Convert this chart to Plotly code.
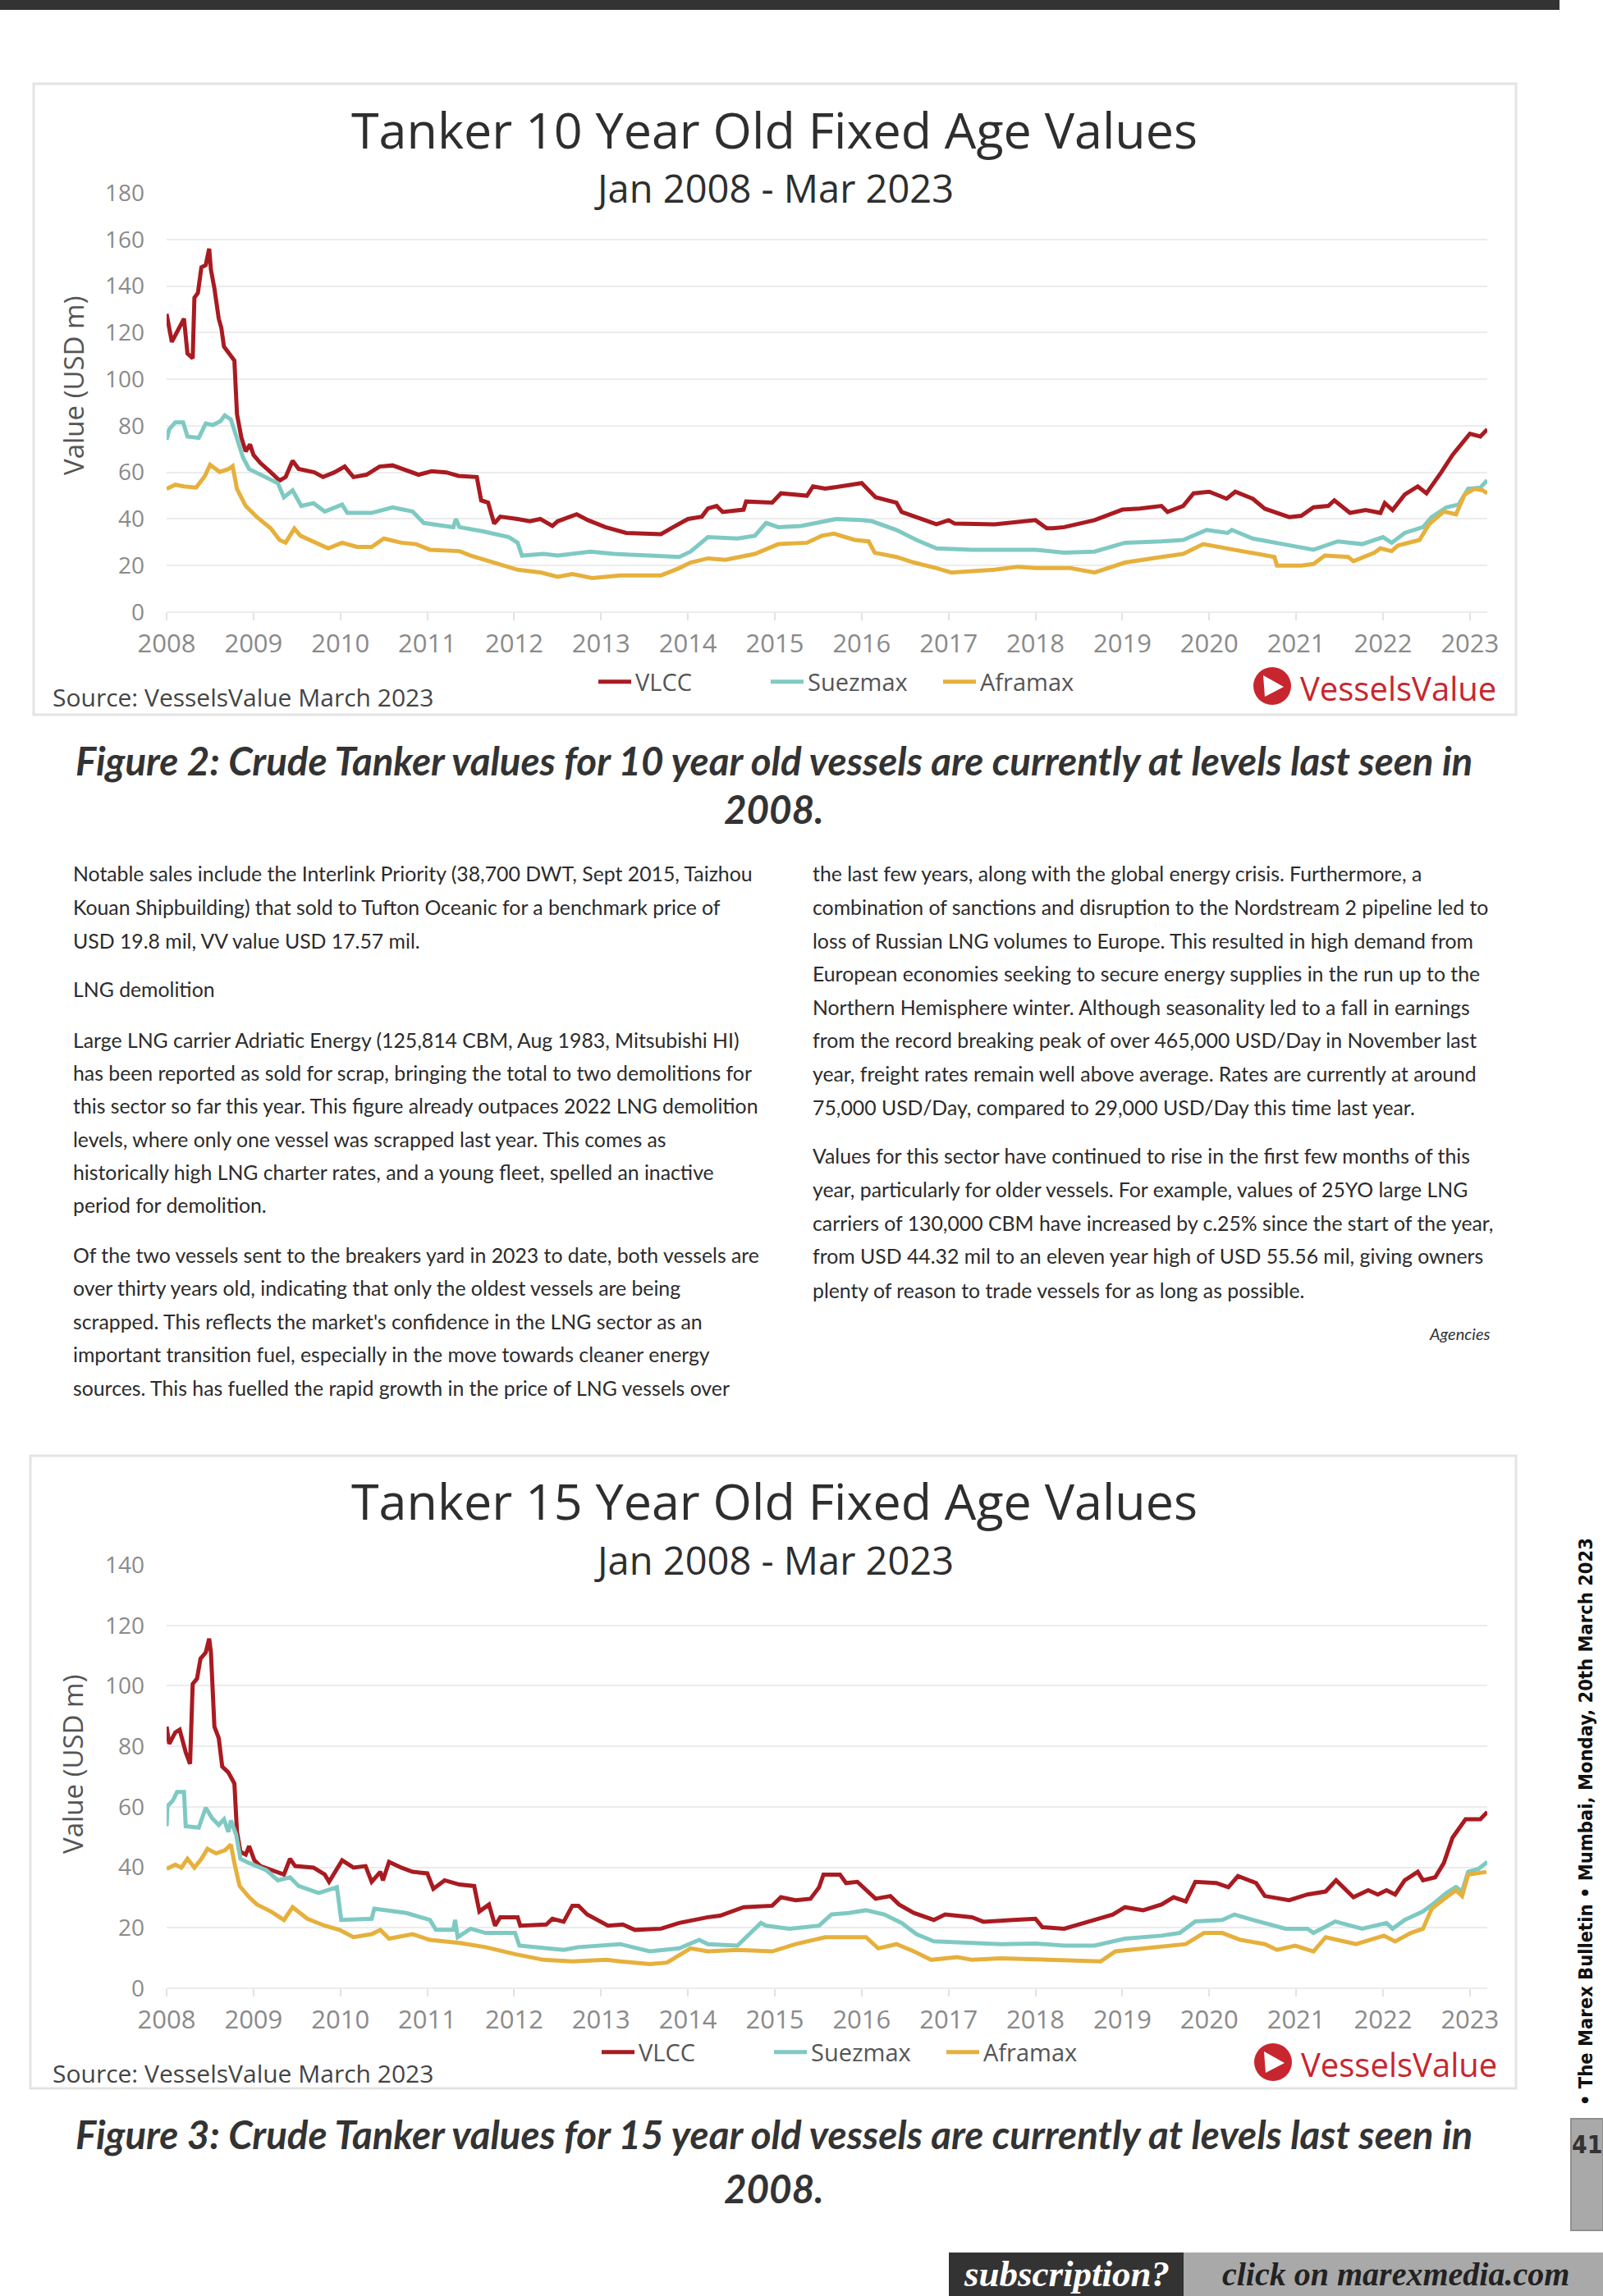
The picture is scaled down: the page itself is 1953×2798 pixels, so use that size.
import plotly.graph_objects as go

W, H = 1953, 2798


def X(px):
    return px / W


def Y(py):
    return 1 - py / H


# ---------------- data ----------------
YEARS = list(range(2008, 2024))
YEAR_LABELS = [str(y) for y in YEARS]
Y1_TICKS = list(range(0, 181, 20))
Y2_TICKS = list(range(0, 141, 20))
SERIES = ["VLCC", "Suezmax", "Aframax"]
COLORS = {"VLCC": "#a91b21", "Suezmax": "#7fc9c3", "Aframax": "#e6b03c"}

# Figure 2 : 10 year old values (USD m), time in decimal years
vlcc10_t = [2008.00, 2008.06, 2008.13, 2008.20, 2008.24, 2008.30, 2008.32, 2008.36, 2008.40, 2008.45, 2008.49, 2008.51,
            2008.55, 2008.60, 2008.63, 2008.66, 2008.74, 2008.78, 2008.81, 2008.86, 2008.91, 2008.96, 2009.00, 2009.08,
            2009.20, 2009.30, 2009.37, 2009.45, 2009.52, 2009.70, 2009.80, 2009.93, 2010.05, 2010.15, 2010.30, 2010.45,
            2010.60, 2010.72, 2010.90, 2011.05, 2011.22, 2011.36, 2011.57, 2011.62, 2011.70, 2011.77, 2011.84, 2012.04,
            2012.18, 2012.30, 2012.44, 2012.50, 2012.72, 2012.85, 2013.05, 2013.29, 2013.69, 2013.83, 2014.00, 2014.16,
            2014.23, 2014.33, 2014.40, 2014.64, 2014.67, 2014.97, 2015.07, 2015.37, 2015.44, 2015.58, 2015.92, 2016.00,
            2016.16, 2016.40, 2016.46, 2016.62, 2016.86, 2017.00, 2017.07, 2017.53, 2017.87, 2018.00, 2018.13, 2018.20,
            2018.33, 2018.68, 2019.00, 2019.20, 2019.45, 2019.52, 2019.70, 2019.82, 2020.00, 2020.20, 2020.30, 2020.50,
            2020.64, 2020.92, 2021.06, 2021.20, 2021.37, 2021.44, 2021.62, 2021.80, 2021.97, 2022.02, 2022.11, 2022.25,
            2022.40, 2022.50, 2022.67, 2022.80, 2023.00, 2023.12, 2023.20]
vlcc10_v = [128, 116, 121, 126, 111, 109, 135, 137, 148, 149, 156, 147,
            139, 126, 122, 114, 110, 108, 85, 75, 69, 72, 67.5, 64,
            60, 56.5, 58, 65, 61.5, 60, 58, 60, 62.5, 58, 59, 62.5,
            63, 61.5, 59, 60.5, 60, 58.5, 58, 48, 47, 38, 41, 40,
            39, 40, 37, 39, 42, 39.5, 36.5, 34, 33.5, 36.5, 40, 41,
            44.5, 45.6, 43, 44, 47.5, 47, 51, 50, 54, 53, 55, 55.4,
            49.3, 47, 43, 41, 37.7, 39.5, 38, 37.7, 39, 39.5, 36, 36,
            36.5, 39.5, 44, 44.5, 45.6, 43, 45.6, 51, 51.7, 48.7, 51.7, 48.7,
            44.4, 40.8, 41.4, 45, 45.6, 48, 42.6, 43.8, 42.6, 46.8, 43.8, 50.5,
            54, 51, 60, 67.5, 76.6, 75.4, 78.5]

suez10_t = [2008.00, 2008.03, 2008.10, 2008.19, 2008.24, 2008.37, 2008.45, 2008.53, 2008.62, 2008.67, 2008.74, 2008.81,
            2008.88, 2008.95, 2009.08, 2009.28, 2009.35, 2009.45, 2009.55, 2009.69, 2009.82, 2010.02, 2010.08, 2010.36,
            2010.60, 2010.83, 2010.96, 2011.20, 2011.30, 2011.33, 2011.37, 2011.64, 2011.94, 2012.04, 2012.09, 2012.34,
            2012.50, 2012.88, 2013.15, 2013.56, 2013.90, 2014.03, 2014.23, 2014.57, 2014.77, 2014.90, 2015.04, 2015.30,
            2015.71, 2016.00, 2016.12, 2016.40, 2016.63, 2016.86, 2017.27, 2018.00, 2018.33, 2018.68, 2019.03, 2019.45,
            2019.70, 2019.97, 2020.21, 2020.26, 2020.50, 2020.85, 2021.20, 2021.48, 2021.76, 2022.00, 2022.10, 2022.25,
            2022.46, 2022.56, 2022.73, 2022.87, 2022.98, 2023.12, 2023.20]
suez10_v = [74, 78.5, 81.5, 81.5, 75.4, 74.8, 81, 80.3, 82, 84.5, 82.7, 74.8,
            66.3, 61.4, 59, 55.4, 49.3, 52.3, 45.6, 46.8, 43.2, 46.2, 42.6, 42.6,
            45, 43.2, 38.3, 37, 36.5, 40, 36.5, 34.7, 32.2, 29.8, 24.3, 25,
            24.3, 26, 25, 24.3, 23.7, 26, 32.2, 31.6, 32.8, 38.3, 36.5, 37,
            40, 39.5, 39, 35.3, 31, 27.4, 26.8, 26.8, 25.5, 26, 29.8, 30.4,
            31, 35.3, 34, 35.3, 31.6, 29.2, 26.8, 30.4, 29.2, 32.2, 29.8, 34,
            36.5, 40.8, 45, 46.2, 53, 53.5, 56.6]

afra10_t = [2008.00, 2008.10, 2008.20, 2008.34, 2008.44, 2008.50, 2008.61, 2008.71, 2008.76, 2008.81, 2008.91, 2009.04,
            2009.20, 2009.30, 2009.37, 2009.47, 2009.54, 2009.69, 2009.86, 2010.02, 2010.19, 2010.36, 2010.50, 2010.70,
            2010.87, 2011.03, 2011.37, 2011.50, 2011.84, 2012.04, 2012.31, 2012.50, 2012.67, 2012.90, 2013.22, 2013.69,
            2013.90, 2014.03, 2014.23, 2014.43, 2014.77, 2015.04, 2015.37, 2015.54, 2015.68, 2015.92, 2016.08, 2016.15,
            2016.40, 2016.60, 2016.86, 2017.03, 2017.53, 2017.80, 2018.00, 2018.40, 2018.68, 2019.03, 2019.45, 2019.70,
            2019.93, 2020.22, 2020.50, 2020.75, 2020.78, 2021.06, 2021.20, 2021.33, 2021.60, 2021.66, 2021.90, 2021.97,
            2022.10, 2022.17, 2022.42, 2022.53, 2022.70, 2022.84, 2022.94, 2023.05, 2023.15, 2023.20]
afra10_v = [52.9, 54.7, 54, 53.5, 58.4, 63.3, 60.2, 61.4, 62.7, 52.9, 45.6, 40.8,
            35.9, 31, 29.8, 35.9, 32.8, 30.4, 27.4, 29.8, 28, 28, 31.6, 29.8,
            29.2, 26.8, 26.2, 24.3, 20.7, 18.2, 17, 15.2, 16.4, 14.6, 15.8, 15.8,
            18.9, 21.3, 23.1, 22.5, 25, 29.2, 29.8, 32.8, 33.7, 31, 30.4, 25.5,
            23.7, 21.3, 18.9, 17, 18.2, 19.5, 18.9, 18.9, 17, 21.3, 23.7, 25,
            29.2, 27.4, 25.5, 23.7, 20, 20, 20.7, 24.3, 23.7, 21.9, 25.5, 27.4,
            26.2, 28.6, 31, 37.7, 43.2, 42, 50.5, 52.9, 52.3, 51]

# Figure 3 : 15 year old values (USD m)
vlcc15_t = [2008.00, 2008.03, 2008.10, 2008.15, 2008.22, 2008.27, 2008.30, 2008.35, 2008.39, 2008.45, 2008.49, 2008.51,
            2008.55, 2008.60, 2008.64, 2008.71, 2008.78, 2008.81, 2008.85, 2008.91, 2008.95, 2009.01, 2009.08, 2009.28,
            2009.35, 2009.42, 2009.48, 2009.69, 2009.82, 2009.87, 2010.02, 2010.15, 2010.29, 2010.36, 2010.46, 2010.49,
            2010.56, 2010.70, 2010.83, 2011.00, 2011.07, 2011.20, 2011.37, 2011.54, 2011.60, 2011.71, 2011.78, 2011.84,
            2012.04, 2012.07, 2012.37, 2012.44, 2012.57, 2012.67, 2012.74, 2012.84, 2013.08, 2013.25, 2013.39, 2013.69,
            2013.90, 2014.23, 2014.37, 2014.64, 2014.97, 2015.07, 2015.24, 2015.41, 2015.51, 2015.56, 2015.75, 2015.82,
            2015.95, 2016.16, 2016.33, 2016.43, 2016.60, 2016.83, 2016.96, 2017.27, 2017.40, 2017.74, 2018.00, 2018.08,
            2018.33, 2018.68, 2018.89, 2019.03, 2019.24, 2019.45, 2019.59, 2019.73, 2019.84, 2020.08, 2020.22, 2020.33,
            2020.54, 2020.64, 2020.92, 2021.13, 2021.34, 2021.46, 2021.66, 2021.83, 2021.94, 2022.04, 2022.14, 2022.25,
            2022.40, 2022.46, 2022.60, 2022.70, 2022.80, 2022.95, 2023.12, 2023.20]
vlcc15_v = [86.5, 80.8, 84.6, 85.5, 78, 74.2, 100.6, 102.4, 109, 111, 115.6, 111,
            86.5, 82.7, 73.3, 71.4, 67.7, 51.7, 45.1, 44.2, 47, 42.3, 40.4, 38.5,
            37.6, 42.8, 40.4, 39.9, 37.6, 35.2, 42.3, 39.9, 40.4, 35.2, 38.5, 35.7,
            41.8, 39.9, 38.5, 38, 32.9, 35.7, 34.3, 33.8, 25.4, 27.7, 20.7, 23.5,
            23.5, 20.7, 21.1, 23, 22, 27.3, 27.3, 24.4, 20.7, 21.1, 19.3, 19.7,
            21.6, 23.5, 24, 26.8, 27.3, 30.1, 29.1, 29.6, 33.4, 37.6, 37.6, 34.8,
            35.2, 29.6, 30.5, 27.7, 24.9, 22.6, 24.4, 23.5, 22, 22.6, 23, 20.2,
            19.7, 22.6, 24.4, 26.8, 25.8, 27.7, 30.1, 28.7, 35.2, 34.8, 33.4, 37.1,
            34.8, 30.5, 29.1, 31, 32, 35.7, 30.1, 32.4, 31, 32.4, 31, 35.7,
            38.5, 35.7, 36.7, 41.4, 49.8, 55.9, 55.9, 58.3]

suez15_t = [2008.00, 2008.01, 2008.07, 2008.12, 2008.20, 2008.22, 2008.37, 2008.45, 2008.52, 2008.60, 2008.66, 2008.71,
            2008.74, 2008.80, 2008.85, 2008.95, 2009.15, 2009.28, 2009.42, 2009.52, 2009.75, 2009.96, 2010.01, 2010.36,
            2010.39, 2010.76, 2011.03, 2011.10, 2011.30, 2011.32, 2011.35, 2011.50, 2011.67, 2012.01, 2012.06, 2012.34,
            2012.57, 2012.74, 2013.22, 2013.56, 2013.90, 2014.13, 2014.23, 2014.57, 2014.67, 2014.84, 2014.90, 2015.17,
            2015.51, 2015.65, 2015.85, 2016.05, 2016.26, 2016.46, 2016.63, 2016.83, 2017.27, 2017.60, 2018.00, 2018.33,
            2018.68, 2019.03, 2019.45, 2019.66, 2019.84, 2020.15, 2020.29, 2020.50, 2020.88, 2021.13, 2021.20, 2021.45,
            2021.76, 2022.04, 2022.11, 2022.25, 2022.46, 2022.56, 2022.73, 2022.84, 2022.91, 2022.98, 2023.10, 2023.20]
suez15_v = [53.6, 60.2, 62, 64.9, 64.9, 53.6, 53.1, 59.7, 56.4, 54, 55.9, 51.7,
            55.5, 50.8, 42.8, 41.4, 39, 35.7, 36.7, 33.8, 31.5, 33.4, 22.6, 23,
            26.3, 24.9, 22.6, 19.3, 19.3, 22.6, 16.9, 19.7, 18.3, 18.3, 14.1, 13.2,
            12.7, 13.6, 14.6, 12.2, 13.2, 16, 14.6, 14.1, 16.9, 21.6, 20.7, 19.7,
            20.7, 24.4, 24.9, 25.8, 24.4, 21.6, 17.9, 15.5, 15, 14.6, 14.8, 14.1,
            14.1, 16.4, 17.4, 18.3, 22.1, 22.6, 24.4, 22.6, 19.7, 19.7, 18.3, 22.1,
            19.7, 21.6, 19.7, 22.6, 25.4, 27.5, 31.5, 33.5, 32, 38.5, 39.5, 41.8]

afra15_t = [2008.00, 2008.10, 2008.17, 2008.24, 2008.32, 2008.40, 2008.47, 2008.57, 2008.67, 2008.74, 2008.78, 2008.84,
            2008.95, 2009.04, 2009.20, 2009.35, 2009.45, 2009.62, 2009.82, 2009.99, 2010.15, 2010.36, 2010.46, 2010.56,
            2010.83, 2011.03, 2011.37, 2011.67, 2012.01, 2012.34, 2012.67, 2013.06, 2013.22, 2013.56, 2013.76, 2014.03,
            2014.23, 2014.57, 2014.97, 2015.24, 2015.58, 2016.05, 2016.19, 2016.40, 2016.60, 2016.80, 2017.10, 2017.27,
            2017.60, 2018.00, 2018.40, 2018.75, 2018.92, 2019.38, 2019.73, 2019.94, 2020.15, 2020.36, 2020.64, 2020.78,
            2020.99, 2021.20, 2021.34, 2021.69, 2022.01, 2022.14, 2022.32, 2022.46, 2022.56, 2022.73, 2022.84, 2022.91,
            2022.98, 2023.19]
afra15_v = [39.5, 40.9, 39.9, 42.8, 39.9, 42.8, 46.1, 44.6, 45.6, 47.5, 41.4, 33.8,
            30.1, 27.7, 25.4, 22.6, 26.8, 23, 20.7, 19.3, 16.9, 17.9, 19.3, 16.4,
            17.9, 16, 15, 13.6, 11.3, 9.4, 8.9, 9.4, 8.9, 8, 8.5, 13.2,
            12.2, 12.7, 12.2, 14.6, 16.9, 16.9, 13.2, 14.6, 12.2, 9.4, 10.3, 9.4,
            9.9, 9.6, 9.4, 8.9, 12.2, 13.6, 14.6, 18.3, 18.3, 16, 14.6, 12.7,
            14.1, 12.2, 16.9, 14.6, 17.4, 15.5, 18.3, 19.7, 26.3, 30.1, 32.4, 30.5,
            37.6, 38.5]

# ---------------- text ----------------
CHART1_TITLE = "Tanker 10 Year Old Fixed Age Values"
CHART2_TITLE = "Tanker 15 Year Old Fixed Age Values"
SUBTITLE = "Jan 2008 - Mar 2023"
Y_TITLE = "Value (USD m)"
SOURCE = "Source: VesselsValue March 2023"
CAPTION2 = ["Figure 2: Crude Tanker values for 10 year old vessels are currently at levels last seen in", "2008."]
CAPTION3 = ["Figure 3: Crude Tanker values for 15 year old vessels are currently at levels last seen in", "2008."]

LEFT_LINES = [
    ("Notable sales include the Interlink Priority (38,700 DWT, Sept 2015, Taizhou", 1064),
    ("Kouan Shipbuilding) that sold to Tufton Oceanic for a benchmark price of", 1105),
    ("USD 19.8 mil, VV value USD 17.57 mil.", 1146),
    ("LNG demolition", 1205),
    ("Large LNG carrier Adriatic Energy (125,814 CBM, Aug 1983, Mitsubishi HI)", 1267),
    ("has been reported as sold for scrap, bringing the total to two demolitions for", 1307),
    ("this sector so far this year. This figure already outpaces 2022 LNG demolition", 1347),
    ("levels, where only one vessel was scrapped last year. This comes as", 1388),
    ("historically high LNG charter rates, and a young fleet, spelled an inactive", 1428),
    ("period for demolition.", 1469),
    ("Of the two vessels sent to the breakers yard in 2023 to date, both vessels are", 1529),
    ("over thirty years old, indicating that only the oldest vessels are being", 1569),
    ("scrapped. This reflects the market's confidence in the LNG sector as an", 1610),
    ("important transition fuel, especially in the move towards cleaner energy", 1650),
    ("sources. This has fuelled the rapid growth in the price of LNG vessels over", 1691),
]
RIGHT_LINES = [
    ("the last few years, along with the global energy crisis. Furthermore, a", 1064),
    ("combination of sanctions and disruption to the Nordstream 2 pipeline led to", 1105),
    ("loss of Russian LNG volumes to Europe. This resulted in high demand from", 1146),
    ("European economies seeking to secure energy supplies in the run up to the", 1186),
    ("Northern Hemisphere winter. Although seasonality led to a fall in earnings", 1227),
    ("from the record breaking peak of over 465,000 USD/Day in November last", 1267),
    ("year, freight rates remain well above average. Rates are currently at around", 1308),
    ("75,000 USD/Day, compared to 29,000 USD/Day this time last year.", 1349),
    ("Values for this sector have continued to rise in the first few months of this", 1408),
    ("year, particularly for older vessels. For example, values of 25YO large LNG", 1449),
    ("carriers of 130,000 CBM have increased by c.25% since the start of the year,", 1490),
    ("from USD 44.32 mil to an eleven year high of USD 55.56 mil, giving owners", 1530),
    ("plenty of reason to trade vessels for as long as possible.", 1572),
]

CHART_FONT = "Open Sans, Roboto, sans-serif"
BODY_FONT = "Lato, Open Sans, sans-serif"
NARROW_FONT = "Liberation Sans Narrow, DejaVu Sans Condensed, sans-serif"
SERIF_FONT = "Liberation Serif, DejaVu Serif, serif"

fig = go.Figure()

chart_data = [
    ("x", "y", "legend", [(vlcc10_t, vlcc10_v), (suez10_t, suez10_v), (afra10_t, afra10_v)]),
    ("x2", "y2", "legend2", [(vlcc15_t, vlcc15_v), (suez15_t, suez15_v), (afra15_t, afra15_v)]),
]
for xa, ya, lg, series in chart_data:
    for name, (t, v) in zip(SERIES, series):
        fig.add_trace(go.Scatter(
            x=t, y=v, mode="lines", name=name, xaxis=xa, yaxis=ya, legend=lg,
            line=dict(color=COLORS[name], width=5), hoverinfo="skip"))

xdom = [X(203), X(1812)]
axis_common_x = dict(
    range=[2008, 2023.2], domain=xdom, tickmode="array", tickvals=YEARS, ticktext=YEAR_LABELS,
    showgrid=False, zeroline=False, showline=False, ticks="outside", ticklen=9, tickwidth=2,
    tickcolor="#e3e3e3", ticklabelstandoff=2, automargin=False,
    tickfont=dict(family=CHART_FONT, size=31, color="#8a8a8a"))
axis_common_y = dict(
    tickmode="array", showgrid=True, gridcolor="#ececec", gridwidth=2, zeroline=True,
    zerolinecolor="#ececec", zerolinewidth=2, showline=False, ticks="", ticklabelstandoff=26,
    automargin=False, tickfont=dict(family=CHART_FONT, size=28, color="#8a8a8a"))

legend_common = dict(orientation="h", xanchor="left", yanchor="middle",
                     font=dict(family=CHART_FONT, size=29, color="#555555"), bgcolor="rgba(0,0,0,0)",
                     itemwidth=40, tracegroupgap=0, entrywidth=155, entrywidthmode="pixels")

fig.update_layout(
    width=W, height=H, margin=dict(l=0, r=0, t=0, b=0, pad=0, autoexpand=False),
    paper_bgcolor="white", plot_bgcolor="white",
    xaxis=dict(axis_common_x, anchor="y"),
    yaxis=dict(axis_common_y, anchor="x", range=[0, 180], tickvals=Y1_TICKS,
               domain=[Y(746), Y(235)]),
    xaxis2=dict(axis_common_x, anchor="y2"),
    yaxis2=dict(axis_common_y, anchor="x2", range=[0, 140], tickvals=Y2_TICKS,
                domain=[Y(2423), Y(1907)]),
    legend=dict(legend_common, x=X(724), y=Y(831)),
    legend2=dict(legend_common, x=X(728), y=Y(2501)),
    showlegend=True,
)

shapes = []
annotations = []


def text(x, y, s, size, color="#333333", family=CHART_FONT, xanchor="center", angle=0, bg=None, **kw):
    a = dict(x=X(x), y=Y(y), xref="paper", yref="paper", text=s, showarrow=False,
             xanchor=xanchor, yanchor="middle", textangle=angle,
             font=dict(family=family, size=size, color=color))
    if bg:
        a["bgcolor"] = bg
    a.update(kw)
    annotations.append(a)


def rect(x0, y0, x1, y1, fill=None, line=None, lw=0, layer="below"):
    shapes.append(dict(type="rect", xref="paper", yref="paper", x0=X(x0), x1=X(x1), y0=Y(y1), y1=Y(y0),
                       fillcolor=fill if fill else "rgba(0,0,0,0)",
                       line=dict(color=line if line else "rgba(0,0,0,0)", width=lw), layer=layer))


def logo(cx, cy):
    r = 23
    shapes.append(dict(type="circle", xref="paper", yref="paper", x0=X(cx - r), x1=X(cx + r),
                       y0=Y(cy + r), y1=Y(cy - r), fillcolor="#c8262e", line=dict(width=0), layer="above"))
    p = "M {:.5f},{:.5f} L {:.5f},{:.5f} L {:.5f},{:.5f} Z".format(
        X(cx - 11), Y(cy - 13), X(cx + 14), Y(cy + 1), X(cx - 9), Y(cy + 13))
    shapes.append(dict(type="path", xref="paper", yref="paper", path=p, fillcolor="white",
                       line=dict(width=0), layer="above"))
    text(cx + 32, cy + 2, "VesselsValue", 40, color="#c8262e", xanchor="left")


# top bar
rect(0, 0, 1900, 12, fill="#333333")

# chart boxes
rect(41, 102, 1847, 871, line="#e4e4e4", lw=3)
rect(37, 1774, 1847, 2545, line="#e4e4e4", lw=3)

# chart 1 texts
text(943, 157, CHART1_TITLE, 61, color="#2e2e2e")
text(943, 229, SUBTITLE, 47, color="#2e2e2e", bg="white", borderpad=0)
text(90, 470, Y_TITLE, 33, color="#555555", angle=-90)
text(62, 849, SOURCE, 30, color="#444444", xanchor="left")
logo(1550, 836)

# chart 2 texts
text(943, 1829, CHART2_TITLE, 61, color="#2e2e2e")
text(943, 1901, SUBTITLE, 47, color="#2e2e2e", bg="white", borderpad=0)
text(88, 2150, Y_TITLE, 33, color="#555555", angle=-90)
text(62, 2526, SOURCE, 30, color="#444444", xanchor="left")
logo(1551, 2513)

# captions
for s, yy in zip(CAPTION2, [926, 986]):
    text(943, yy, "<b><i>" + s + "</i></b>", 47.5, color="#333333", family=BODY_FONT)
for s, yy in zip(CAPTION3, [2600, 2666]):
    text(943, yy, "<b><i>" + s + "</i></b>", 47.5, color="#333333", family=BODY_FONT)

# body text
for s, yy in LEFT_LINES:
    text(87, yy, s, 24.8, color="#2b2b2b", family=BODY_FONT, xanchor="left")
for s, yy in RIGHT_LINES:
    text(988, yy, s, 24.8, color="#2b2b2b", family=BODY_FONT, xanchor="left")
text(1818, 1625, "<i>Agencies</i>", 20, color="#333333", family=BODY_FONT, xanchor="right")

# side bar
text(1932, 2220, "<b>\u2022 The Marex Bulletin \u2022 Mumbai, Monday, 20th March 2023</b>", 23.5,
     color="#111111", family=NARROW_FONT, angle=-90)
rect(1914, 2582, 1953, 2718, fill="#a9a9a9", line="#8f8f8f", lw=2)
text(1934, 2613, "<b>41</b>", 30, color="#333333", family=NARROW_FONT)

# bottom banner
rect(1156, 2745, 1442, 2798, fill="#333333")
rect(1442, 2745, 1953, 2798, fill="#a9a9a9")
text(1299, 2771, "<b><i>subscription?</i></b>", 45, color="white", family=SERIF_FONT)
text(1700, 2771, "<b><i>click on marexmedia.com</i></b>", 40, color="#222222", family=SERIF_FONT)

fig.update_layout(shapes=shapes, annotations=annotations)

fig.write_html("out.html", config={"displayModeBar": False},
               post_script="document.body.style.margin='0';document.body.style.overflow='hidden';")
